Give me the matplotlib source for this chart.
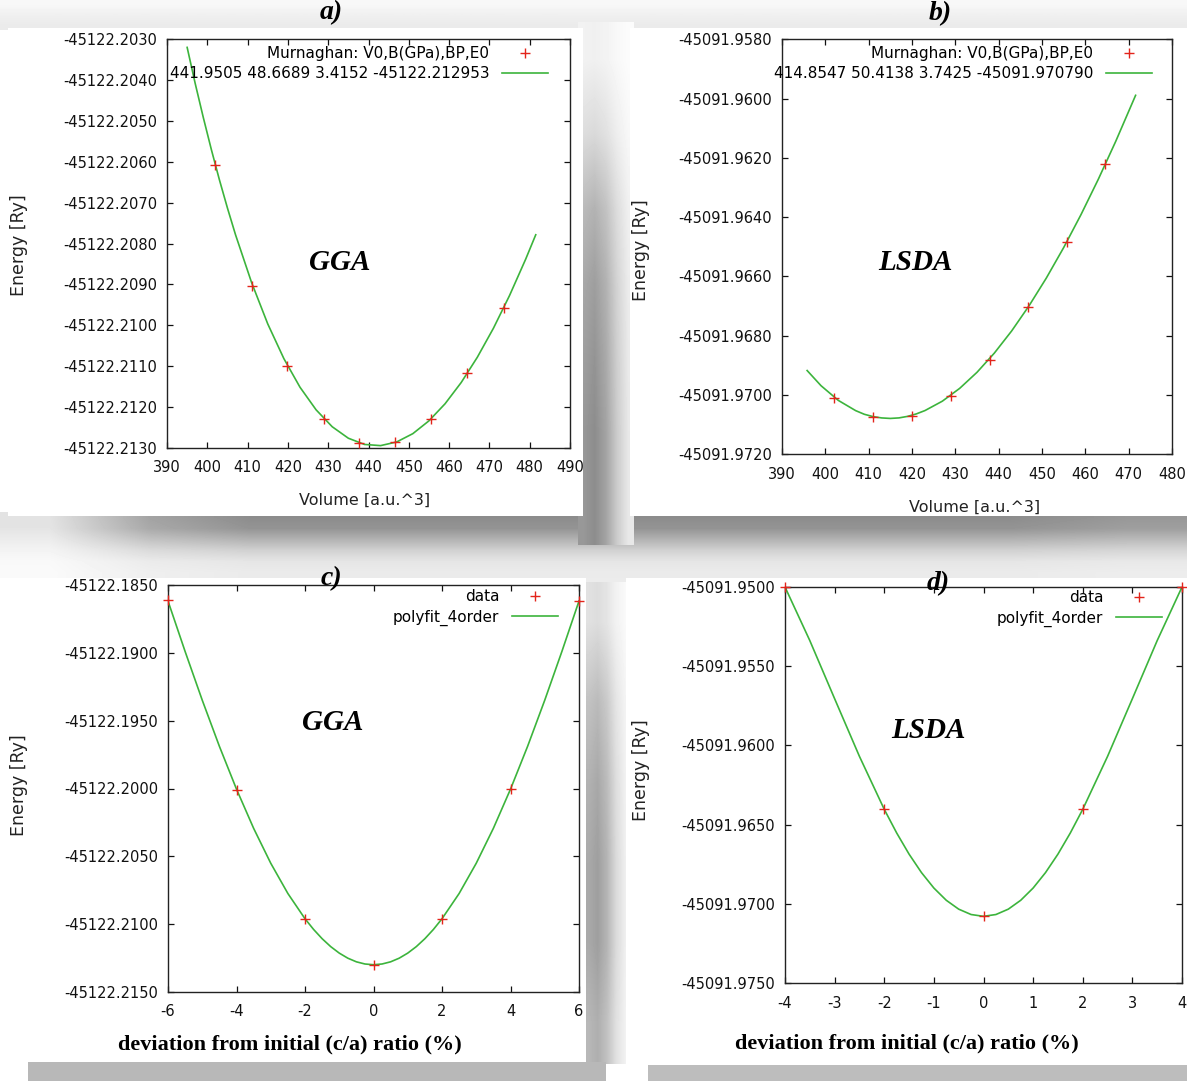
import numpy as np
import matplotlib
matplotlib.use("Agg")
import matplotlib.pyplot as plt
from matplotlib import font_manager as fm

# ---------------- data ----------------
# panel a) GGA, Murnaghan fit of E(V)
gga_vol = [402.0, 411.0, 419.9, 428.9, 437.6, 446.6, 455.6, 464.5, 473.5]
gga_E = [-45122.20609, -45122.20903, -45122.21100, -45122.21229, -45122.21289,
         -45122.21287, -45122.21229, -45122.21116, -45122.20957]
gga_fit_vol = [395.0, 397.0, 399.0, 401.0, 403.0, 405.0, 407.0, 411.0, 415.0, 419.0,
               423.0, 427.0, 431.0, 435.0, 439.0, 443.0, 447.0, 451.0, 455.0, 459.0,
               463.0, 467.0, 471.0, 475.0, 479.0, 481.5]
gga_fit_E = [-45122.203198, -45122.204083, -45122.204912, -45122.205698, -45122.206439,
             -45122.207132, -45122.207785, -45122.208959,
             -45122.209969, -45122.210819, -45122.211519, -45122.212073, -45122.212487,
             -45122.212768, -45122.212920, -45122.212949, -45122.212859, -45122.212656,
             -45122.212342, -45122.211924, -45122.211404, -45122.210786, -45122.210075,
             -45122.209273, -45122.208384, -45122.207786]
gga_label = "441.9505 48.6689 3.4152 -45122.212953"

# panel b) LSDA, Murnaghan fit of E(V)
lsda_vol = [402.1, 411.0, 420.0, 428.9, 437.9, 446.8, 455.7, 464.6]
lsda_E = [-45091.970103, -45091.970733, -45091.970700, -45091.970025,
          -45091.968810, -45091.967021, -45091.964839, -45091.962207]
lsda_fit_vol = [395.8, 399.0, 403.0, 407.0, 409.0, 411.0, 413.0, 415.0, 417.0, 419.0,
                421.0, 423.0, 427.0, 431.0, 435.0, 439.0, 443.0, 447.0, 451.0, 455.0,
                459.0, 463.0, 467.0, 471.6]
lsda_fit_E = [-45091.969174, -45091.969685, -45091.970182, -45091.970527, -45091.970650,
              -45091.970728, -45091.970773, -45091.970790, -45091.970772, -45091.970720,
              -45091.970637, -45091.970524, -45091.970208, -45091.969776,
              -45091.969234, -45091.968586, -45091.967838, -45091.966992, -45091.966054,
              -45091.965027, -45091.963914, -45091.962720, -45091.961447, -45091.959890]
lsda_label = "414.8547 50.4138 3.7425 -45091.970790"

# panel c) GGA, c/a deviation
gga_ca = [-6, -4, -2, 0, 2, 4, 6]
gga_ca_E = [-45122.18613, -45122.20009, -45122.20960, -45122.21299,
            -45122.20960, -45122.20006, -45122.18618]
gga_ca_fit_x = [-6.0, -5.5, -5.0, -4.5, -4.0, -3.5, -3.0, -2.5, -2.0, -1.75, -1.5, -1.25,
                -1.0, -0.75, -0.5, -0.25, 0.0, 0.25, 0.5, 0.75, 1.0, 1.25, 1.5, 1.75,
                2.0, 2.5, 3.0, 3.5, 4.0, 4.5, 5.0, 5.5, 6.0]
gga_ca_fit_E = [-45122.186180, -45122.189903, -45122.193490, -45122.196887, -45122.200049,
                -45122.202935, -45122.205509, -45122.207740, -45122.209601, -45122.210386,
                -45122.211071, -45122.211654, -45122.212133, -45122.212507, -45122.212775,
                -45122.212936, -45122.212990, -45122.212936, -45122.212775, -45122.212507,
                -45122.212133, -45122.211654, -45122.211071, -45122.210386, -45122.209601,
                -45122.207740, -45122.205509, -45122.202935, -45122.200049, -45122.196887,
                -45122.193490, -45122.189903, -45122.186180]

# panel d) LSDA, c/a deviation
lsda_ca = [-4, -2, 0, 2, 4]
lsda_ca_E = [-45091.95000, -45091.96404, -45091.97079, -45091.96404, -45091.95000]
lsda_ca_fit_x = [-4.0, -3.5, -3.0, -2.5, -2.0, -1.75, -1.5, -1.25, -1.0, -0.75, -0.5, -0.25, 0.0,
                 0.25, 0.5, 0.75, 1.0, 1.25, 1.5, 1.75, 2.0, 2.5, 3.0, 3.5, 4.0]
lsda_ca_fit_E = [-45091.950000, -45091.953383, -45091.957052, -45091.960693, -45091.964036,
                 -45091.965526, -45091.966864, -45091.968029, -45091.969005, -45091.969778,
                 -45091.970338, -45091.970677, -45091.970791, -45091.970677, -45091.970338,
                 -45091.969778, -45091.969005, -45091.968029, -45091.966864, -45091.965526,
                 -45091.964036, -45091.960693, -45091.957052, -45091.953383, -45091.950000]

vol_ticks_a = [390, 400, 410, 420, 430, 440, 450, 460, 470, 480, 490]
vol_ticks_b = [390, 400, 410, 420, 430, 440, 450, 460, 470, 480]
ca_ticks_c = [-6, -4, -2, 0, 2, 4, 6]
ca_ticks_d = [-4, -3, -2, -1, 0, 1, 2, 3, 4]
E_ticks_a = [-45122.2130, -45122.2120, -45122.2110, -45122.2100, -45122.2090, -45122.2080,
             -45122.2070, -45122.2060, -45122.2050, -45122.2040, -45122.2030]
E_ticks_b = [-45091.9720, -45091.9700, -45091.9680, -45091.9660, -45091.9640,
             -45091.9620, -45091.9600, -45091.9580]
E_ticks_c = [-45122.2150, -45122.2100, -45122.2050, -45122.2000, -45122.1950,
             -45122.1900, -45122.1850]
E_ticks_d = [-45091.9750, -45091.9700, -45091.9650, -45091.9600, -45091.9550, -45091.9500]

# ---------------- style ----------------
W, H = 1187, 1081
RED = "#e3241b"
GREEN = "#3cb43c"


def has_font(name):
    try:
        fm.findfont(fm.FontProperties(family=name), fallback_to_default=False)
        return True
    except Exception:
        return False


if has_font("Liberation Sans Narrow"):
    SANS, TFS, LFS, XFS = "Liberation Sans Narrow", 14, 14.5, 15
else:
    SANS, TFS, LFS, XFS = "DejaVu Sans", 10.5, 11, 11.5
SERIF = "Liberation Serif"

fig = plt.figure(figsize=(W / 100, H / 100), dpi=100)
fig.patch.set_facecolor("white")

# ---------------- background cards & shadows ----------------
bg = fig.add_axes([0, 0, 1, 1], zorder=-10)
bg.axis("off")


def shadow(x0, x1, y0, y1, dh, dv, z=0):
    dark = np.outer(np.asarray(dv, float), np.asarray(dh, float))
    bg.imshow(1 - dark, extent=[x0, x1, y1, y0], cmap="gray", vmin=0, vmax=1,
              aspect="auto", interpolation="bilinear", zorder=z)


def rect(x0, x1, y0, y1, color, z=1):
    bg.add_patch(plt.Rectangle((x0, y0), x1 - x0, y1 - y0, facecolor=color,
                               edgecolor="none", zorder=z))


# top strip
shadow(0, W, 0, 30, [1, 1], [0.03, 0.06, 0.08], z=0)
# light band between the two rows
rect(0, W, 540, 582, "#ececec", z=0.1)
# shadows under the top cards
shadow(0, 600, 512, 578, [0.25, 0.8, 1, 1, 1, 1],
       [0.45, 0.42, 0.3, 0.18, 0.1, 0.08], z=0.2)
shadow(600, W, 512, 578, [1, 1, 1, 1, 0.9],
       [0.45, 0.42, 0.3, 0.18, 0.1, 0.08], z=0.2)
# vertical shadow between the top cards
shadow(578, 634, 22, 545, [0.9, 1, 0.8, 0.45, 0.2],
       [0.06, 0.15, 0.3, 0.38, 0.42, 0.45, 0.45], z=0.3)
# top cards
rect(8, 583, 28, 516, "white")
rect(630, W, 28, 516, "white")
# bottom row: vertical shadow between the cards
shadow(584, 630, 582, 1064, [0.8, 0.9, 0.7, 0.35, 0.15],
       [0.15, 0.3, 0.38, 0.42, 0.42, 0.35], z=0.3)
# bottom grey bars
rect(28, 606, 1062, H, "#b8b8b8", z=0.8)
rect(648, W, 1065, H, "#bdbdbd", z=0.8)
# bottom cards
rect(0, 586, 578, 1062, "white")
rect(626, W, 578, 1065, "white")
bg.set_xlim(0, W)
bg.set_ylim(H, 0)


# ---------------- plot panels ----------------
def make_ax(box):
    l, r, t, b = box
    return fig.add_axes([l / W, 1 - b / H, (r - l) / W, (b - t) / H])


def to_ax(box, x, y):
    l, r, t, b = box
    return (x - l) / (r - l), (b - y) / (b - t)


def style(ax, xticks, yticks, xlim, ylim, fmt):
    ax.set_xlim(*xlim)
    ax.set_ylim(*ylim)
    ax.set_xticks(xticks)
    ax.set_yticks(yticks)
    ax.set_yticklabels([fmt % v for v in yticks])
    ax.set_xticklabels([str(v) for v in xticks])
    ax.tick_params(direction="in", length=4.5, width=0.9, top=True, right=True,
                   labelsize=TFS, colors="#111111")
    ax.tick_params(axis="y", pad=7)
    ax.tick_params(axis="x", pad=9)
    for lab in ax.get_xticklabels() + ax.get_yticklabels():
        lab.set_fontfamily(SANS)
    for s in ax.spines.values():
        s.set_linewidth(1.0)
        s.set_color("#222222")


panels = [
    dict(box=(167, 570, 39.3, 447.7), x=gga_vol, y=gga_E, fx=gga_fit_vol, fy=gga_fit_E,
         lab1="Murnaghan: V0,B(GPa),BP,E0", lab2=gga_label, xt=vol_ticks_a, yt=E_ticks_a,
         xl=(390, 490), yl=(-45122.2130, -45122.2030), tag="a)", tagxy=(331, 13),
         name="GGA", namexy=(340, 262), xlabel="Volume [a.u.^3]", xlxy=(365, 500),
         ylxy=(19, 245), leg=(548, 46)),
    dict(box=(782, 1172, 39.3, 454.3), x=lsda_vol, y=lsda_E, fx=lsda_fit_vol, fy=lsda_fit_E,
         lab1="Murnaghan: V0,B(GPa),BP,E0", lab2=lsda_label, xt=vol_ticks_b, yt=E_ticks_b,
         xl=(390, 480), yl=(-45091.9720, -45091.9580), tag="b)", tagxy=(940, 14),
         name="LSDA", namexy=(915, 262), xlabel="Volume [a.u.^3]", xlxy=(975, 507),
         ylxy=(641, 250), leg=(1152, 46)),
    dict(box=(168, 579, 585, 992), x=gga_ca, y=gga_ca_E, fx=gga_ca_fit_x, fy=gga_ca_fit_E,
         lab1="data", lab2="polyfit_4order", xt=ca_ticks_c, yt=E_ticks_c,
         xl=(-6, 6), yl=(-45122.2150, -45122.1850), tag="c)", tagxy=(331, 579),
         name="GGA", namexy=(333, 722), xlabel="deviation from initial (c/a) ratio (%)",
         xlxy=(290, 1044), ylxy=(19, 785), leg=(558, 589)),
    dict(box=(785, 1182, 587, 983), x=lsda_ca, y=lsda_ca_E, fx=lsda_ca_fit_x, fy=lsda_ca_fit_E,
         lab1="data", lab2="polyfit_4order", xt=ca_ticks_d, yt=E_ticks_d,
         xl=(-4, 4), yl=(-45091.9750, -45091.9500), tag="d)", tagxy=(938, 584),
         name="LSDA", namexy=(928, 730), xlabel="deviation from initial (c/a) ratio (%)",
         xlxy=(907, 1043), ylxy=(641, 770), leg=(1162, 590)),
]

for p in panels:
    box = p["box"]
    ax = make_ax(box)
    ax.set_facecolor("white")
    line, = ax.plot(p["fx"], p["fy"], color=GREEN, lw=1.2, label=p["lab2"], zorder=2)
    pts, = ax.plot(p["x"], p["y"], linestyle="none", marker="+", ms=6.5, mew=1.0,
                   color=RED, label=p["lab1"], zorder=3, clip_on=False)
    style(ax, p["xt"], p["yt"], p["xl"], p["yl"], "%.4f")

    lx, ly = to_ax(box, *p["leg"])
    ax.legend(handles=[pts, line], loc="upper right", bbox_to_anchor=(lx, ly),
              markerfirst=False, frameon=False, borderaxespad=0, borderpad=0,
              handlelength=3.0, handletextpad=0.85, labelspacing=0.35,
              prop=dict(family=SANS, size=LFS))

    # y label
    ax.set_ylabel("Energy [Ry]", fontfamily="DejaVu Sans", fontsize=12.5,
                  color="#222222", va="center")
    ax.yaxis.set_label_coords(*to_ax(box, *p["ylxy"]))
    # x label
    if p["tag"] in ("a)", "b)"):
        ax.set_xlabel(p["xlabel"], fontfamily=SANS, fontsize=XFS, color="#222222",
                      va="center")
    else:
        ax.set_xlabel(p["xlabel"], fontfamily=SERIF, fontweight="bold", fontsize=16,
                      color="black", va="center")
    ax.xaxis.set_label_coords(*to_ax(box, *p["xlxy"]))

    # panel tag and functional name
    tx, ty = to_ax(box, *p["tagxy"])
    ax.text(tx, ty, p["tag"], transform=ax.transAxes, ha="center", va="center",
            fontfamily=SERIF, fontweight="bold", fontstyle="italic", fontsize=20,
            clip_on=False, zorder=5)
    nx, ny = to_ax(box, *p["namexy"])
    ax.text(nx, ny, p["name"], transform=ax.transAxes, ha="center", va="center",
            fontfamily=SERIF, fontweight="bold", fontstyle="italic", fontsize=21)

fig.savefig("out.png", dpi=100, facecolor=fig.get_facecolor())
